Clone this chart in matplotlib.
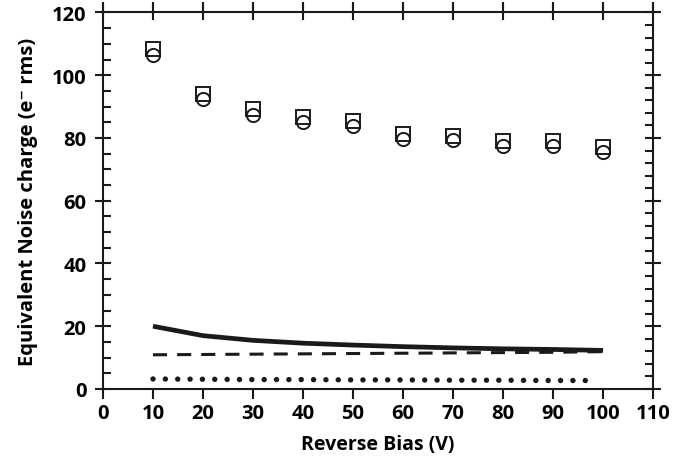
import numpy as np
import matplotlib
matplotlib.use("Agg")
from matplotlib import pyplot as plt
from matplotlib.ticker import MultipleLocator

plt.rcParams["font.family"] = ["Open Sans", "DejaVu Sans"]
plt.rcParams["font.weight"] = "bold"

bias = [10, 20, 30, 40, 50, 60, 70, 80, 90, 100]
enc_square = [108.3, 93.9, 89.3, 86.7, 85.5, 81.2, 80.7, 78.9, 78.9, 77.2]
enc_circle = [106.5, 92.3, 87.3, 85.2, 83.8, 79.8, 79.3, 77.4, 77.5, 75.5]
enc_solid = [20.0, 17.0, 15.5, 14.6, 14.0, 13.5, 13.1, 12.8, 12.6, 12.3]
enc_dashed = [10.9, 11.0, 11.1, 11.2, 11.3, 11.4, 11.5, 11.6, 11.7, 11.9]
dot_bias = [10, 20, 30, 40, 50, 60, 70, 80, 90, 97.6]
enc_dotted = [3.2, 3.1, 3.0, 3.0, 2.9, 2.9, 2.8, 2.8, 2.7, 2.7]

ink = "#1a1a1a"

fig = plt.figure(figsize=(6.94, 4.64), dpi=100)
ax = fig.add_axes([0.1484, 0.1595, 0.7926, 0.8115])

ax.plot(bias, enc_solid, "-", color=ink, lw=3.4, solid_capstyle="butt")
ax.plot(bias, enc_dashed, color=ink, lw=2.2, linestyle=(0, (4.6, 3.3)))
ax.plot(dot_bias, enc_dotted, color=ink, lw=3.9, linestyle=(0, (0.01, 2.27)),
        dash_capstyle="round")
ax.plot(bias, enc_square, "s", ms=10.5, mfc="none", mec=ink, mew=1.4)
ax.plot(bias, enc_circle, "o", ms=9.5, mfc="none", mec=ink, mew=1.4)

ax.set_xlim(0, 110)
ax.set_ylim(0, 120)
ax.xaxis.set_major_locator(MultipleLocator(10))
ax.yaxis.set_major_locator(MultipleLocator(20))
ax.yaxis.set_minor_locator(MultipleLocator(5))

for s in ax.spines.values():
    s.set_linewidth(1.5)
    s.set_color(ink)

ax.tick_params(axis="x", which="major", direction="out", length=7, width=1.5,
               color=ink, labelsize=14.5, pad=3, top=True)
ax.tick_params(axis="y", which="major", direction="inout", length=12, width=1.5,
               color=ink, labelsize=14.5, pad=6)
ax.tick_params(axis="y", which="minor", direction="in", length=6, width=1.5,
               color=ink)

# top ticks cross the frame
top = ax.secondary_xaxis("top")
top.xaxis.set_major_locator(MultipleLocator(10))
top.tick_params(direction="inout", length=12, width=1.5, color=ink,
                labeltop=False)
top.spines["top"].set_visible(False)

# right axis: major crossing, minor every 4
right = ax.secondary_yaxis("right")
right.yaxis.set_major_locator(MultipleLocator(20))
right.yaxis.set_minor_locator(MultipleLocator(4))
right.tick_params(which="major", direction="inout", length=12, width=1.5,
                  color=ink, labelright=False)
right.tick_params(which="minor", direction="in", length=6, width=1.5, color=ink)
right.spines["right"].set_visible(False)

ax.set_xlabel("Reverse Bias (V)", fontsize=14, fontweight="bold", labelpad=8)
ax.set_ylabel("Equivalent Noise charge (e\u207b rms)", fontsize=14.5,
              fontweight="bold", labelpad=10)

fig.savefig("out.png", dpi=100)
